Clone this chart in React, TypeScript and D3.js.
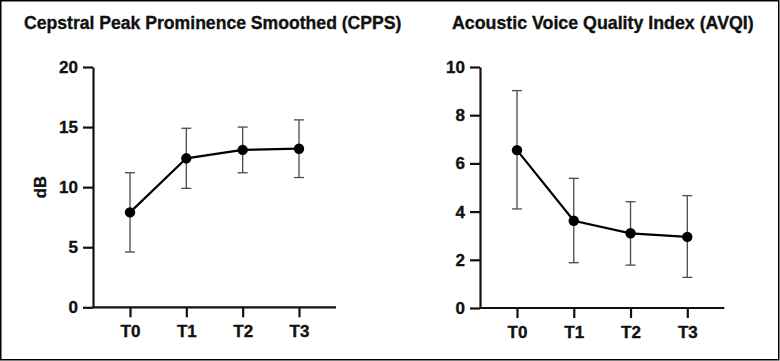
import { useEffect, useRef } from 'react'
import * as d3 from 'd3'

const timepoints = ['T0', 'T1', 'T2', 'T3']

const cppsMean = [7.9, 12.4, 13.1, 13.2]
const cppsUpper = [11.2, 14.9, 15.0, 15.6]
const cppsLower = [4.6, 9.9, 11.2, 10.8]
const cppsTicks = [0, 5, 10, 15, 20]

const avqiMean = [6.55, 3.62, 3.1, 2.95]
const avqiUpper = [9.02, 5.38, 4.41, 4.66]
const avqiLower = [4.11, 1.88, 1.78, 1.27]
const avqiTicks = [0, 2, 4, 6, 8, 10]

const FONT = '"Liberation Sans", Arial, Helvetica, sans-serif'

// bold text with a hairline stroke, the reference type is a bit heavier
function boldText(sel, size) {
  return sel
    .attr('font-family', FONT)
    .attr('font-weight', 'bold')
    .attr('font-size', size)
    .attr('fill', '#111')
    .attr('stroke', '#111')
    .attr('stroke-width', 0.35)
}

function drawPanel(svg, opts) {
  const { left, right, top, bottom, yMax, ticks, mean, upper, lower, title, titleX, titleSize, yLabel } = opts
  const x = d3.scalePoint().domain(timepoints).range([left + 37, right - 37])
  const y = d3.scaleLinear().domain([0, yMax]).range([bottom, top])
  const g = svg.append('g')

  boldText(g.append('text').attr('x', titleX).attr('y', 29), titleSize).text(title)

  if (yLabel) {
    boldText(
      g
        .append('text')
        .attr('transform', `translate(45.5, ${(top + bottom) / 2}) rotate(-90)`)
        .attr('text-anchor', 'middle'),
      16.5
    ).text(yLabel)
  }

  const yAxis = g
    .append('g')
    .attr('transform', `translate(${left},0)`)
    .call(d3.axisLeft(y).tickValues(ticks).tickSize(10).tickPadding(5).tickSizeOuter(0))
  const xAxis = g
    .append('g')
    .attr('transform', `translate(0,${bottom})`)
    .call(d3.axisBottom(x).tickSize(10).tickPadding(8).tickSizeOuter(0))
  xAxis.select('.domain').attr('d', `M${left},0H${right}`)

  ;[yAxis, xAxis].forEach((ax) => {
    ax.selectAll('path,line').attr('stroke', '#111').attr('stroke-width', 2.2)
    boldText(ax.selectAll('text'), 17)
  })

  const bars = g.append('g').attr('stroke', '#4a4a4a').attr('stroke-width', 1.3).attr('fill', 'none')
  timepoints.forEach((t, i) => {
    const cx = x(t)
    bars.append('line').attr('x1', cx).attr('x2', cx).attr('y1', y(upper[i])).attr('y2', y(lower[i]))
    bars.append('line').attr('x1', cx - 5).attr('x2', cx + 5).attr('y1', y(upper[i])).attr('y2', y(upper[i]))
    bars.append('line').attr('x1', cx - 5).attr('x2', cx + 5).attr('y1', y(lower[i])).attr('y2', y(lower[i]))
  })

  const line = d3
    .line()
    .x((d, i) => x(timepoints[i]))
    .y((d) => y(d))
  g.append('path').attr('d', line(mean)).attr('fill', 'none').attr('stroke', '#000').attr('stroke-width', 2.2)

  g.selectAll('circle.pt')
    .data(mean)
    .enter()
    .append('circle')
    .attr('class', 'pt')
    .attr('r', 5.2)
    .attr('cx', (d, i) => x(timepoints[i]))
    .attr('cy', (d) => y(d))
    .attr('fill', '#000')
}

export default function App() {
  const ref = useRef(null)

  useEffect(() => {
    document.body.style.margin = '0'
    const svg = d3.select(ref.current)
    svg.selectAll('*').remove()

    svg.append('rect').attr('width', 780).attr('height', 361).attr('fill', '#fff')
    svg
      .append('rect')
      .attr('x', 0.75)
      .attr('y', 0.75)
      .attr('width', 778)
      .attr('height', 359)
      .attr('fill', 'none')
      .attr('stroke', '#000')
      .attr('stroke-width', 1.5)

    drawPanel(svg, {
      left: 93,
      right: 336,
      top: 67,
      bottom: 307.3,
      yMax: 20,
      ticks: cppsTicks,
      mean: cppsMean,
      upper: cppsUpper,
      lower: cppsLower,
      title: 'Cepstral Peak Prominence Smoothed (CPPS)',
      titleX: 24,
      titleSize: 17.6,
      yLabel: 'dB',
    })

    drawPanel(svg, {
      left: 480,
      right: 724.3,
      top: 67,
      bottom: 308,
      yMax: 10,
      ticks: avqiTicks,
      mean: avqiMean,
      upper: avqiUpper,
      lower: avqiLower,
      title: 'Acoustic Voice Quality Index (AVQI)',
      titleX: 452,
      titleSize: 17.8,
      yLabel: null,
    })
  }, [])

  return <svg ref={ref} width={780} height={361} style={{ display: 'block' }} />
}
